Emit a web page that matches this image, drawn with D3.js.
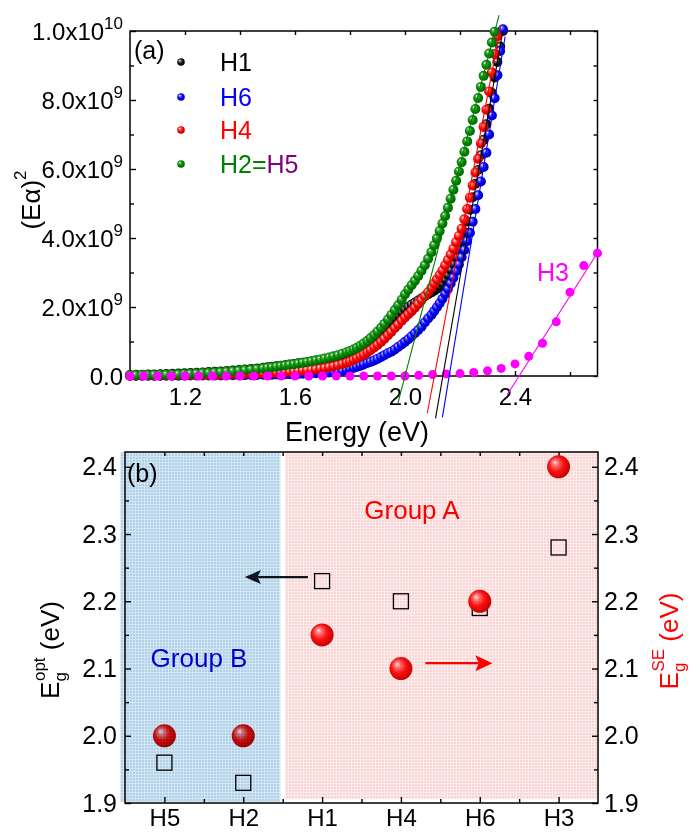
<!DOCTYPE html>
<html>
<head>
<meta charset="utf-8">
<script src="https://cdn.jsdelivr.net/npm/d3@7"></script>
<style>
  body { margin: 0; background: #fff; }
  svg text { font-family: Arial, "Liberation Sans", sans-serif; }
</style>
</head>
<body>
<svg id="chart" width="694" height="832"></svg>
<script>
// ---- panel (a): (E alpha)^2 vs energy, values in units of 1e9 ----
const energy = [
  1.000, 1.022, 1.044, 1.066, 1.088, 1.110, 1.132, 1.154, 1.176, 1.198, 1.220, 1.242, 1.264, 1.286, 1.308, 1.330, 1.352, 1.374, 1.396, 1.418, 1.440, 1.462, 1.484,
  1.500, 1.516, 1.532, 1.548, 1.564, 1.580, 1.596, 1.612, 1.628, 1.644, 1.660, 1.676, 1.692, 1.708, 1.724, 1.740, 1.756, 1.772, 1.788,
  1.800, 1.813, 1.825, 1.838, 1.850, 1.863, 1.875, 1.888, 1.900, 1.913, 1.925, 1.938, 1.950, 1.963, 1.975, 1.988, 2.000,
  2.012, 2.024, 2.036, 2.048, 2.060, 2.072, 2.084, 2.096,
  2.106, 2.116, 2.126, 2.136, 2.146, 2.156, 2.166, 2.176, 2.186, 2.196, 2.206, 2.216, 2.226, 2.236, 2.246, 2.256, 2.266, 2.276, 2.286, 2.296, 2.306, 2.316, 2.326, 2.336, 2.346, 2.356
];
const h1 = [
  0.030, 0.034, 0.038, 0.042, 0.047, 0.052, 0.058, 0.064, 0.071, 0.078, 0.086, 0.094, 0.103, 0.113, 0.123, 0.134, 0.146, 0.159, 0.173, 0.188, 0.204, 0.221, 0.239,
  0.252, 0.266, 0.281, 0.297, 0.314, 0.331, 0.349, 0.366, 0.384, 0.402, 0.421, 0.440, 0.460, 0.482, 0.506, 0.532, 0.562, 0.594, 0.628,
  0.660, 0.715, 0.770, 0.830, 0.895, 0.965, 1.040, 1.120, 1.200, 1.290, 1.380, 1.480, 1.570, 1.670, 1.760, 1.850, 1.930,
  2.000, 2.070, 2.130, 2.190, 2.250, 2.310, 2.370, 2.420,
  2.47, 2.53, 2.60, 2.68, 2.80, 2.93, 3.08, 3.25, 3.44, 3.66, 3.90, 4.17, 4.48, 4.82, 5.18, 5.57, 5.97, 6.40, 6.85, 7.30, 7.75, 8.20, 8.65, 9.10, 9.55, 10.0
];
const h6 = [
  0.005, 0.005, 0.006, 0.006, 0.007, 0.007, 0.008, 0.009, 0.010, 0.011, 0.012, 0.013, 0.014, 0.015, 0.017, 0.018, 0.020, 0.022, 0.024, 0.026, 0.028, 0.031, 0.034,
  0.036, 0.039, 0.042, 0.045, 0.049, 0.053, 0.057, 0.061, 0.066, 0.071, 0.077, 0.083, 0.090, 0.097, 0.105, 0.115, 0.128, 0.145, 0.170,
  0.205, 0.235, 0.265, 0.300, 0.335, 0.375, 0.410, 0.450, 0.495, 0.550, 0.600, 0.660, 0.705, 0.770, 0.840, 0.915, 0.990,
  1.065, 1.150, 1.240, 1.330, 1.430, 1.550, 1.665, 1.770,
  1.880, 1.995, 2.110, 2.240, 2.380, 2.520, 2.680, 2.850, 3.040, 3.230, 3.440, 3.650, 3.910, 4.150, 4.470, 4.840, 5.240, 5.640, 6.060, 6.470, 7.000, 7.550, 8.050, 8.720, 9.420, 10.05
];
const h4 = [
  0.010, 0.011, 0.012, 0.013, 0.015, 0.017, 0.019, 0.021, 0.023, 0.025, 0.027, 0.030, 0.033, 0.036, 0.039, 0.043, 0.047, 0.051, 0.055, 0.060, 0.065, 0.071, 0.077,
  0.082, 0.088, 0.095, 0.103, 0.112, 0.123, 0.135, 0.145, 0.156, 0.168, 0.181, 0.197, 0.215, 0.235, 0.257, 0.282, 0.312, 0.346, 0.384,
  0.420, 0.465, 0.512, 0.565, 0.620, 0.685, 0.750, 0.825, 0.900, 0.990, 1.080, 1.180, 1.280, 1.390, 1.490, 1.600, 1.700,
  1.79, 1.88, 1.98, 2.09, 2.20, 2.31, 2.43, 2.56,
  2.68, 2.80, 2.93, 3.06, 3.21, 3.36, 3.52, 3.69, 3.88, 4.06, 4.27, 4.54, 4.84, 5.17, 5.52, 5.90, 6.30, 6.74, 7.22, 7.72, 8.25, 8.80, 9.33, 9.85
];
const h2h5 = [
  0.020, 0.023, 0.026, 0.029, 0.032, 0.037, 0.042, 0.047, 0.053, 0.060, 0.067, 0.075, 0.084, 0.094, 0.104, 0.116, 0.128, 0.141, 0.156, 0.171, 0.188, 0.205, 0.225,
  0.240, 0.255, 0.271, 0.288, 0.306, 0.325, 0.344, 0.364, 0.385, 0.407, 0.430, 0.455, 0.481, 0.508, 0.538, 0.570, 0.605, 0.645, 0.690,
  0.725, 0.770, 0.820, 0.880, 0.945, 1.02, 1.10, 1.19, 1.29, 1.40, 1.51, 1.64, 1.77, 1.91, 2.05, 2.21, 2.37,
  2.50, 2.63, 2.76, 2.90, 3.05, 3.21, 3.40, 3.59,
  3.79, 3.99, 4.20, 4.42, 4.64, 4.88, 5.14, 5.40, 5.66, 5.93, 6.20, 6.50, 6.80, 7.10, 7.42, 7.74, 8.06, 8.38, 8.70, 9.02, 9.35, 9.67, 9.98
];
const energyH3 = [
  1.00, 1.05, 1.10, 1.15, 1.20, 1.25, 1.30, 1.35, 1.40, 1.45, 1.50, 1.55, 1.60, 1.65, 1.70, 1.75, 1.80, 1.85, 1.90, 1.95,
  2.00, 2.05, 2.10, 2.15, 2.20, 2.25, 2.30, 2.35, 2.40, 2.45, 2.50, 2.55, 2.60, 2.65, 2.70
];
const h3 = [
  0, 0, 0, 0, 0, 0, 0, 0, 0, 0, 0, 0, 0, 0, 0, 0, 0, 0, 0, 0,
  0, 0.02, 0.04, 0.06, 0.07, 0.10, 0.15, 0.22, 0.35, 0.57, 0.95, 1.57, 2.43, 3.20, 3.56
];
// linear fits [energy, value] end points
const fitH1 = [[2.111, -1.23], [2.355, 9.98]];
const fitH6 = [[2.136, -1.20], [2.364, 9.84]];
const fitH4 = [[2.081, -1.08], [2.348, 10.14]];
const fitH2 = [[1.9745, -0.78], [2.342, 10.46]];
const fitH3 = [[2.371, -0.55], [2.700, 3.57]];
const xTicksA = [1.2, 1.6, 2.0, 2.4];
const xMinorA = [1.4, 1.8, 2.2, 2.6];
const yTicksA = [0, 2, 4, 6, 8, 10];
const yMinorA = [1, 3, 5, 7, 9];

// ---- panel (b): band gaps ----
const samples = ['H5', 'H2', 'H1', 'H4', 'H6', 'H3'];
const egOpt = [1.96, 1.93, 2.23, 2.20, 2.19, 2.28];
const egSE = [2.00, 2.00, 2.15, 2.10, 2.20, 2.40];
const yTicksB = [1.9, 2.0, 2.1, 2.2, 2.3, 2.4];
const yMinorB = [1.95, 2.05, 2.15, 2.25, 2.35];
const groupB = [0.44, 2.47];
const groupA = [2.53, 6.5];

const svg = d3.select('#chart');
const defs = svg.append('defs');

function sphere(id, light, mid, dark) {
  const g = defs.append('radialGradient').attr('id', id)
    .attr('cx', '45%').attr('cy', '45%').attr('r', '60%')
    .attr('fx', '33%').attr('fy', '30%');
  g.append('stop').attr('offset', '0%').attr('stop-color', '#ffffff');
  g.append('stop').attr('offset', '22%').attr('stop-color', light);
  g.append('stop').attr('offset', '55%').attr('stop-color', mid);
  g.append('stop').attr('offset', '100%').attr('stop-color', dark);
}
sphere('gBlack', '#777', '#111', '#000');
sphere('gBlue', '#6a6aff', '#0000ff', '#0000b0');
sphere('gRed', '#ff7070', '#ff0000', '#b80000');
sphere('gGreen', '#50b050', '#008a00', '#005800');
sphere('gBig', '#ff8080', '#ff1010', '#c00000');

function texture(id, base, line) {
  const p = defs.append('pattern').attr('id', id)
    .attr('patternUnits', 'userSpaceOnUse').attr('width', 3).attr('height', 3);
  p.append('rect').attr('width', 3).attr('height', 3).attr('fill', base);
  p.append('rect').attr('width', 3).attr('height', 1).attr('fill', line);
  p.append('rect').attr('width', 1).attr('height', 3).attr('fill', line);
}
texture('texBlue', '#b0cfe9', '#d2e5f3');
texture('texPink', '#f8d6d6', '#fdeaea');

function styleAxis(g, size) {
  g.selectAll('path.domain').remove();
  g.selectAll('line').attr('stroke', '#000').attr('stroke-width', 1.4);
  g.selectAll('text').attr('font-size', size).attr('fill', '#000')
    .attr('font-family', 'Arial, "Liberation Sans", sans-serif');
}

// =========== panel (a) ===========
const xA = d3.scaleLinear().domain([1.0, 2.7]).range([130, 597.5]);
const yA = d3.scaleLinear().domain([0, 10]).range([376, 31]);

const pa = svg.append('g');

pa.append('g').attr('transform', 'translate(0,376)')
  .call(d3.axisBottom(xA).tickValues(xTicksA).tickSize(-5).tickSizeOuter(0).tickPadding(12).tickFormat(d3.format('.1f')))
  .call(g => styleAxis(g, 24));
pa.append('g').attr('transform', 'translate(0,376)')
  .call(d3.axisBottom(xA).tickValues(xMinorA).tickSize(-4).tickSizeOuter(0).tickFormat(''))
  .call(g => styleAxis(g, 24));
pa.append('g').attr('transform', 'translate(0,31)')
  .call(d3.axisTop(xA).tickValues(xTicksA.concat(xMinorA)).tickSize(-4).tickSizeOuter(0).tickFormat(''))
  .call(g => styleAxis(g, 24));
pa.append('g').attr('transform', 'translate(597.5,0)')
  .call(d3.axisRight(yA).tickValues(yTicksA.concat(yMinorA)).tickSize(-4).tickSizeOuter(0).tickFormat(''))
  .call(g => styleAxis(g, 24));
pa.append('g').attr('transform', 'translate(130,0)')
  .call(d3.axisLeft(yA).tickValues(yMinorA).tickSize(-4).tickSizeOuter(0).tickFormat(''))
  .call(g => styleAxis(g, 24));
const yAxA = pa.append('g').attr('transform', 'translate(130,0)')
  .call(d3.axisLeft(yA).tickValues(yTicksA).tickSize(-6).tickSizeOuter(0).tickFormat(''))
  .call(g => styleAxis(g, 24));
yAxA.selectAll('.tick').append('text')
  .attr('x', -7).attr('dy', '0.36em').attr('text-anchor', 'end')
  .attr('font-size', 24).attr('fill', '#000')
  .each(function (d) {
    const t = d3.select(this);
    if (d === 0) { t.text('0.0'); return; }
    const exp = d === 10 ? 10 : 9;
    const mant = d === 10 ? 1 : d;
    t.append('tspan').text(mant.toFixed(1) + 'x10');
    t.append('tspan').attr('dy', -11).attr('font-size', 17).text(exp);
  });

pa.append('rect').attr('x', 130).attr('y', 31).attr('width', 467.5).attr('height', 345)
  .attr('fill', 'none').attr('stroke', '#000').attr('stroke-width', 1.5);

function series(vals, en) {
  return vals.map((v, i) => ({ e: en[i], v: v }));
}
const curves = [
  { data: series(h1, energy), fill: 'url(#gBlack)' },
  { data: series(h6, energy), fill: 'url(#gBlue)' },
  { data: series(h4, energy), fill: 'url(#gRed)' },
  { data: series(h2h5, energy), fill: 'url(#gGreen)' }
];
curves.forEach(c => {
  pa.append('g').selectAll('circle').data(c.data).join('circle')
    .attr('cx', d => xA(d.e)).attr('cy', d => yA(d.v)).attr('r', 5)
    .attr('fill', c.fill);
});
pa.append('g').selectAll('circle').data(series(h3, energyH3)).join('circle')
  .attr('cx', d => xA(d.e)).attr('cy', d => yA(d.v)).attr('r', 4.5)
  .attr('fill', '#ff00ff');

const fits = [[fitH2, '#008000'], [fitH4, '#ff0000'], [fitH1, '#000000'], [fitH6, '#0000ff'], [fitH3, '#ff00ff']];
const fitLine = d3.line().x(d => xA(d[0])).y(d => yA(d[1]));
fits.forEach(([pts, col]) => {
  pa.append('path').attr('d', fitLine(pts)).attr('stroke', col).attr('stroke-width', 1.1).attr('fill', 'none');
});

// legend
const legend = [
  { label: ['H1'], colors: ['#000'], fill: 'url(#gBlack)' },
  { label: ['H6'], colors: ['#0000ff'], fill: 'url(#gBlue)' },
  { label: ['H4'], colors: ['#ff0000'], fill: 'url(#gRed)' },
  { label: ['H2=', 'H5'], colors: ['#008000', '#800080'], fill: 'url(#gGreen)' }
];
const legRows = [62, 97, 130, 164];
legend.forEach((l, i) => {
  pa.append('circle').attr('cx', 181).attr('cy', legRows[i]).attr('r', 3.8).attr('fill', l.fill);
  const t = pa.append('text').attr('x', 220).attr('y', legRows[i] + 9).attr('font-size', 25);
  l.label.forEach((s, j) => t.append('tspan').attr('fill', l.colors[j]).text(s));
});
pa.append('text').attr('x', 134).attr('y', 59).attr('font-size', 25).text('(a)');
pa.append('text').attr('x', 537).attr('y', 281).attr('font-size', 25).attr('fill', '#ff00ff').text('H3');

pa.append('text').attr('x', 357).attr('y', 441).attr('text-anchor', 'middle').attr('font-size', 27).text('Energy (eV)');
const ytA = pa.append('text').attr('transform', 'translate(40,200) rotate(-90)')
  .attr('text-anchor', 'middle').attr('font-size', 26);
ytA.append('tspan').text('(E\u03b1)');
ytA.append('tspan').attr('dy', -14).attr('font-size', 17).text('2');

// =========== panel (b) ===========
const xB = d3.scaleLinear().domain([0.5, 6.5]).range([125, 598]);
const yB = d3.scaleLinear().domain([1.9, 2.422]).range([803, 452]);
const pb = svg.append('g');

pb.append('g').attr('transform', 'translate(125,0)')
  .call(d3.axisLeft(yB).tickValues(yTicksB).tickSize(-6).tickSizeOuter(0).tickPadding(8).tickFormat(d3.format('.1f')))
  .call(g => styleAxis(g, 25));
pb.append('g').attr('transform', 'translate(125,0)')
  .call(d3.axisLeft(yB).tickValues(yMinorB).tickSize(-4).tickSizeOuter(0).tickFormat(''))
  .call(g => styleAxis(g, 25));
pb.append('g').attr('transform', 'translate(598,0)')
  .call(d3.axisRight(yB).tickValues(yTicksB).tickSize(-6).tickSizeOuter(0).tickPadding(6).tickFormat(d3.format('.1f')))
  .call(g => styleAxis(g, 25));
pb.append('g').attr('transform', 'translate(598,0)')
  .call(d3.axisRight(yB).tickValues(yMinorB).tickSize(-4).tickSizeOuter(0).tickFormat(''))
  .call(g => styleAxis(g, 25));
pb.append('g').attr('transform', 'translate(0,803)')
  .call(d3.axisBottom(xB).tickValues(d3.range(1, 7)).tickSize(-6).tickSizeOuter(0).tickPadding(6).tickFormat(d => samples[d - 1]))
  .call(g => styleAxis(g, 24));
pb.append('g').attr('transform', 'translate(0,803)')
  .call(d3.axisBottom(xB).tickValues([1.5, 2.5, 3.5, 4.5, 5.5]).tickSize(-4).tickSizeOuter(0).tickFormat(''))
  .call(g => styleAxis(g, 24));
pb.append('g').attr('transform', 'translate(0,452)')
  .call(d3.axisTop(xB).tickValues([1, 1.5, 2, 2.5, 3, 3.5, 4, 4.5, 5, 5.5, 6]).tickSize(-4).tickSizeOuter(0).tickFormat(''))
  .call(g => styleAxis(g, 24));
pb.append('rect').attr('x', 125).attr('y', 452).attr('width', 473).attr('height', 351)
  .attr('fill', 'none').attr('stroke', '#000').attr('stroke-width', 1.5);

// open squares: E_g^opt (left axis)
pb.append('g').selectAll('rect').data(egOpt).join('rect')
  .attr('x', (d, i) => xB(i + 1) - 7.5).attr('y', d => yB(d) - 7.5)
  .attr('width', 15).attr('height', 15)
  .attr('fill', 'none').attr('stroke', '#000').attr('stroke-width', 1.3);
// spheres: E_g^SE (right axis)
pb.append('g').selectAll('circle').data(egSE).join('circle')
  .attr('cx', (d, i) => xB(i + 1)).attr('cy', d => yB(d)).attr('r', 11.5)
  .attr('fill', 'url(#gBig)');

// arrows
function arrow(x1, x2, yv, col, len, half) {
  const y = yB(yv), a = xB(x1), b = xB(x2);
  const dir = Math.sign(b - a);
  pb.append('line').attr('x1', a).attr('x2', b - dir * len * 0.8).attr('y1', y).attr('y2', y)
    .attr('stroke', col).attr('stroke-width', 2.2);
  pb.append('path').attr('fill', col)
    .attr('d', `M${b},${y}L${b - dir * len},${y - half}L${b - dir * len * 0.8},${y}L${b - dir * len},${y + half}Z`);
}
arrow(2.82, 2.02, 2.236, '#101820', 16, 7);
arrow(4.31, 5.16, 2.108, '#ff0000', 17, 8);

pb.append('text').attr('x', 127).attr('y', 482).attr('font-size', 25).text('(b)');
pb.append('text').attr('x', 199).attr('y', 667).attr('text-anchor', 'middle').attr('font-size', 26).attr('fill', '#0000dd').text('Group B');
pb.append('text').attr('x', 412).attr('y', 519).attr('text-anchor', 'middle').attr('font-size', 26).attr('fill', '#ff0000').text('Group A');

// shaded groups, multiplied over everything below
pb.append('rect').attr('x', xB(groupB[0])).attr('y', 452)
  .attr('width', xB(groupB[1]) - xB(groupB[0])).attr('height', yB(1.9) - 452 - 1)
  .attr('fill', 'url(#texBlue)').style('mix-blend-mode', 'multiply');
pb.append('rect').attr('x', xB(groupA[0])).attr('y', 452)
  .attr('width', xB(groupA[1]) - xB(groupA[0]) - 1).attr('height', yB(1.906) - 452)
  .attr('fill', 'url(#texPink)').style('mix-blend-mode', 'multiply');

// axis titles
const ytB = pb.append('text').attr('transform', 'translate(59,650) rotate(-90)')
  .attr('text-anchor', 'middle').attr('font-size', 26);
ytB.append('tspan').text('E');
ytB.append('tspan').attr('dy', 7).attr('font-size', 17).text('g');
ytB.append('tspan').attr('dx', -9).attr('dy', -21).attr('font-size', 17).text('opt');
ytB.append('tspan').attr('dy', 14).text(' (eV)');

const ytB2 = pb.append('text').attr('transform', 'translate(678,641) rotate(-90)')
  .attr('text-anchor', 'middle').attr('font-size', 26).attr('fill', '#ff0000');
ytB2.append('tspan').text('E');
ytB2.append('tspan').attr('dy', 7).attr('font-size', 17).text('g');
ytB2.append('tspan').attr('dx', -9).attr('dy', -21).attr('font-size', 17).text('SE');
ytB2.append('tspan').attr('dy', 14).text(' (eV)');
</script>
</body>
</html>
